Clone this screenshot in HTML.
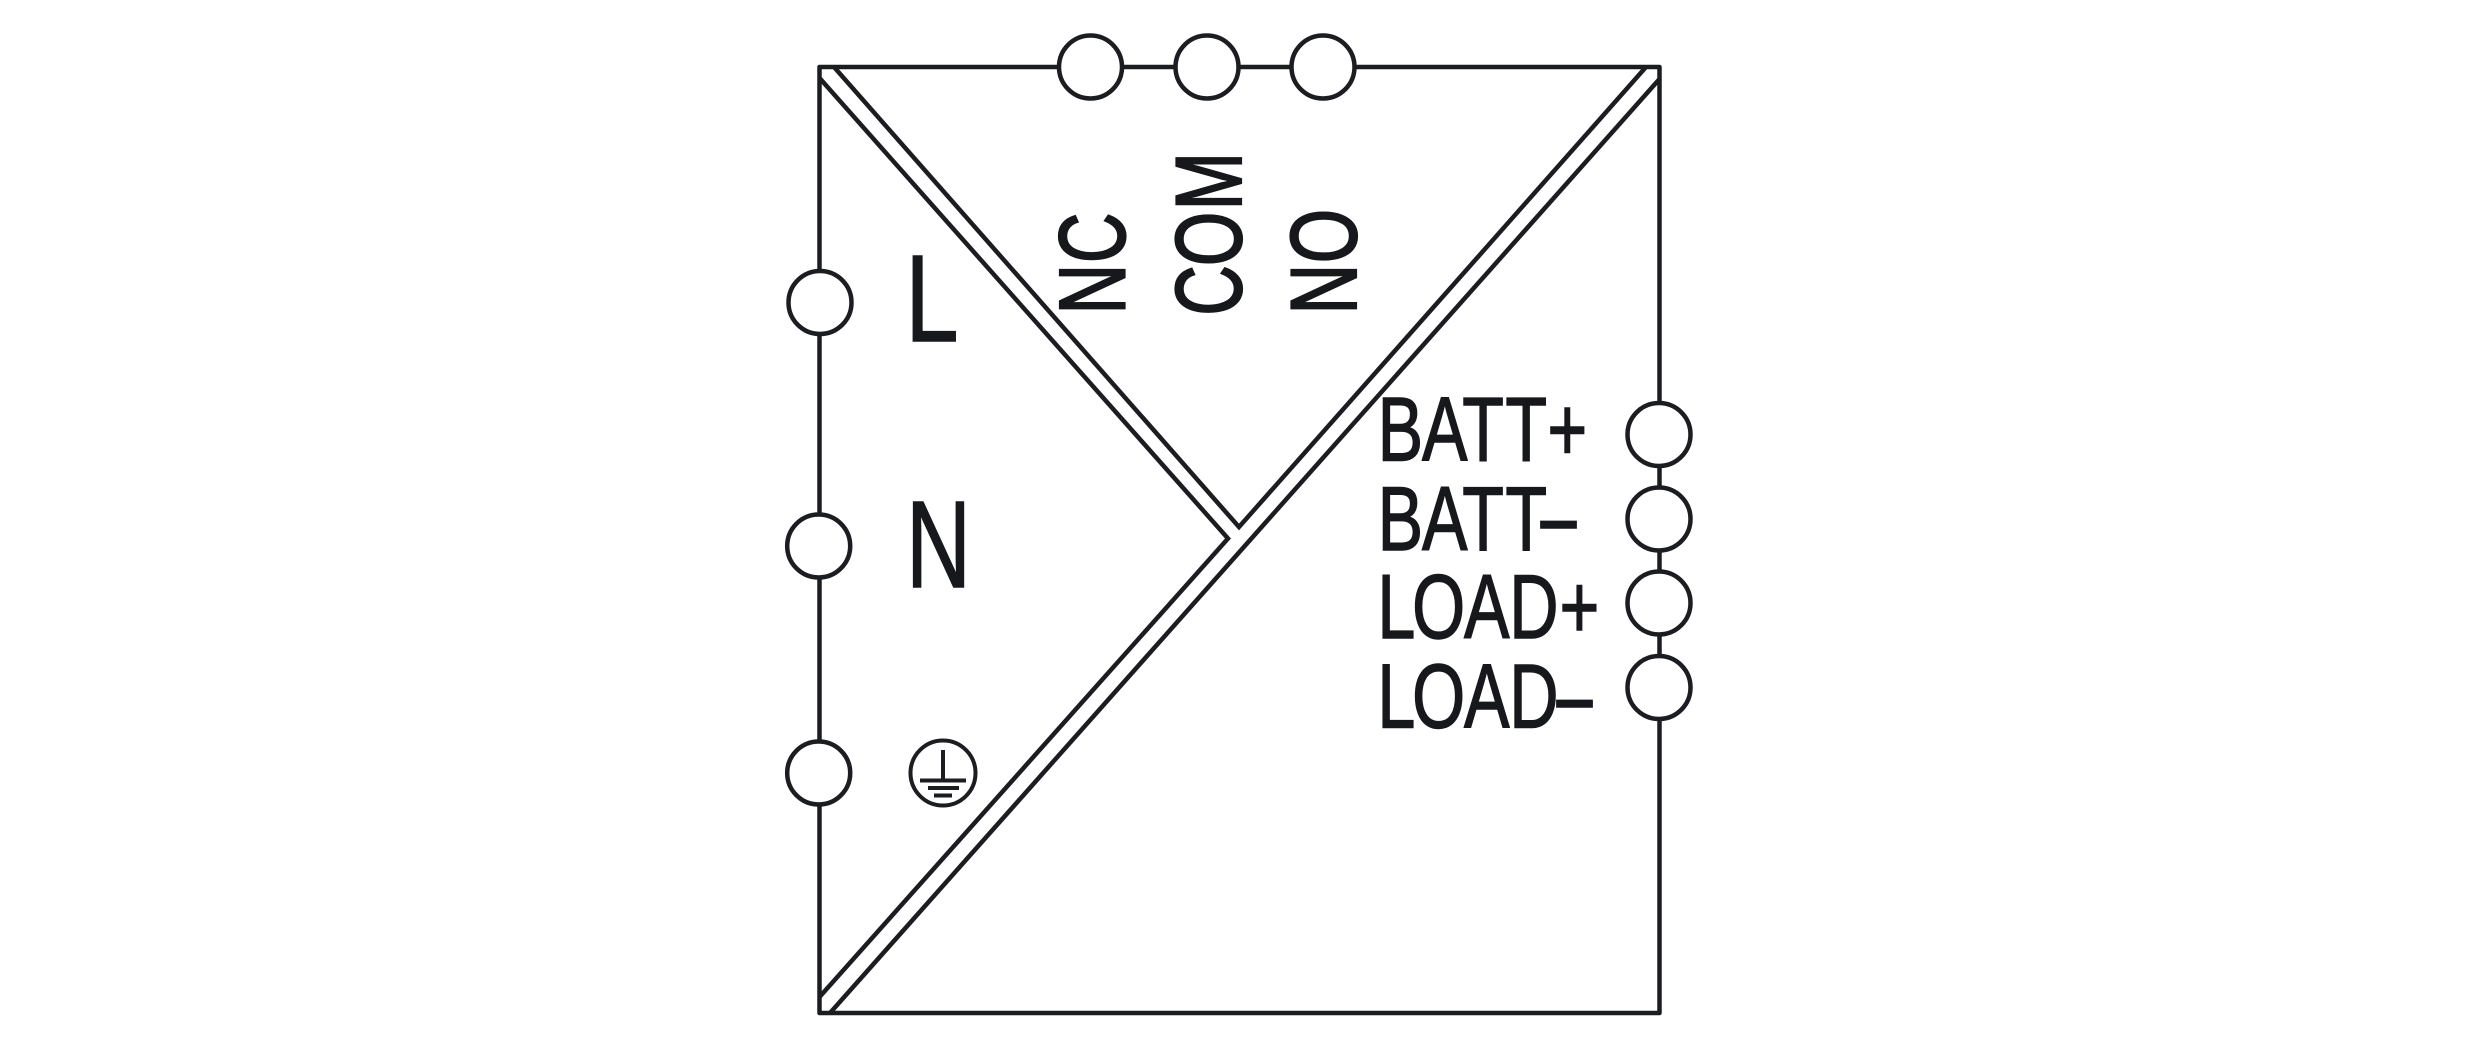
<!DOCTYPE html>
<html><head><meta charset="utf-8"><style>
html,body{margin:0;padding:0;background:#fff;width:2480px;height:1051px;overflow:hidden}
svg{display:block}
text{font-family:"Liberation Sans",sans-serif;fill:#17181c;stroke:#17181c;stroke-width:1.4;font-kerning:none}
</style></head><body>
<svg width="2480" height="1051" viewBox="0 0 2480 1051" xmlns="http://www.w3.org/2000/svg">
<g fill="none" stroke="#1c1d21" stroke-width="4.500">
<path d="M819.500 67H1659.500V1013H819.500Z" stroke-linejoin="round"/>
<path d="M819.500 78L1228 538.500L819.500 997"/>
<path d="M834 67L1239 527L1646 67"/>
<path d="M1659.500 79L830 1013"/>
</g>
<g fill="#fff" stroke="#1c1d21" stroke-width="4.500">
<circle cx="1090.500" cy="67" r="31.500"/>
<circle cx="1207" cy="67" r="31.500"/>
<circle cx="1323" cy="67" r="31.500"/>
<circle cx="820" cy="302.500" r="31.500"/>
<circle cx="818.700" cy="546" r="31.500"/>
<circle cx="818.700" cy="773" r="31.500"/>
<circle cx="1659" cy="434.500" r="31.500"/>
<circle cx="1659" cy="519" r="31.500"/>
<circle cx="1659" cy="603" r="31.500"/>
<circle cx="1659" cy="687.500" r="31.500"/>
</g>
<g fill="none" stroke="#1c1d21">
<circle cx="943" cy="773" r="32.500" stroke-width="4"/>
<path d="M943 750V780" stroke-width="4"/>
<path d="M920 780.500H966" stroke-width="4"/>
<path d="M928 788H959" stroke-width="4"/>
<path d="M934 795.500H952" stroke-width="4"/>
</g>
<text x="905.300" y="341" font-size="123" textLength="53.400" lengthAdjust="spacingAndGlyphs">L</text>
<text x="906" y="587" font-size="123" textLength="65" lengthAdjust="spacingAndGlyphs">N</text>
<g transform="scale(.75,1)" font-size="91">
<text x="1836.900 1896 1949.700 2007.100 2063.200" y="460.500">BATT+</text>
<text x="1836.900 1896 1949.700 2007.100" y="550">BATT<tspan x="2054.700" y="546" font-size="84" style="stroke-width:2.400">–</tspan></text>
<text x="1836.500 1882.800 1952 2012.300 2079.300" y="638">LOAD+</text>
<text x="1836.500 1882.800 1952 2012.300" y="727.500">LOAD<tspan x="2076" y="725" font-size="84" style="stroke-width:2.400">–</tspan></text>
</g>
<g font-size="94" style="stroke-width:2.200">
<text style="stroke-width:2.200" transform="translate(1124.500,0) rotate(-90) scale(.74,1)" x="-424.600 -355.400" y="0">NC</text>
<text style="stroke-width:2.200" transform="translate(1241,0) rotate(-90) scale(.74,1)" x="-426.500 -359.500 -284" y="0">COM</text>
<text style="stroke-width:2.200" transform="translate(1356,0) rotate(-90) scale(.74,1)" x="-424.600 -355.500" y="0">NO</text>
</g>
</svg>
</body></html>
